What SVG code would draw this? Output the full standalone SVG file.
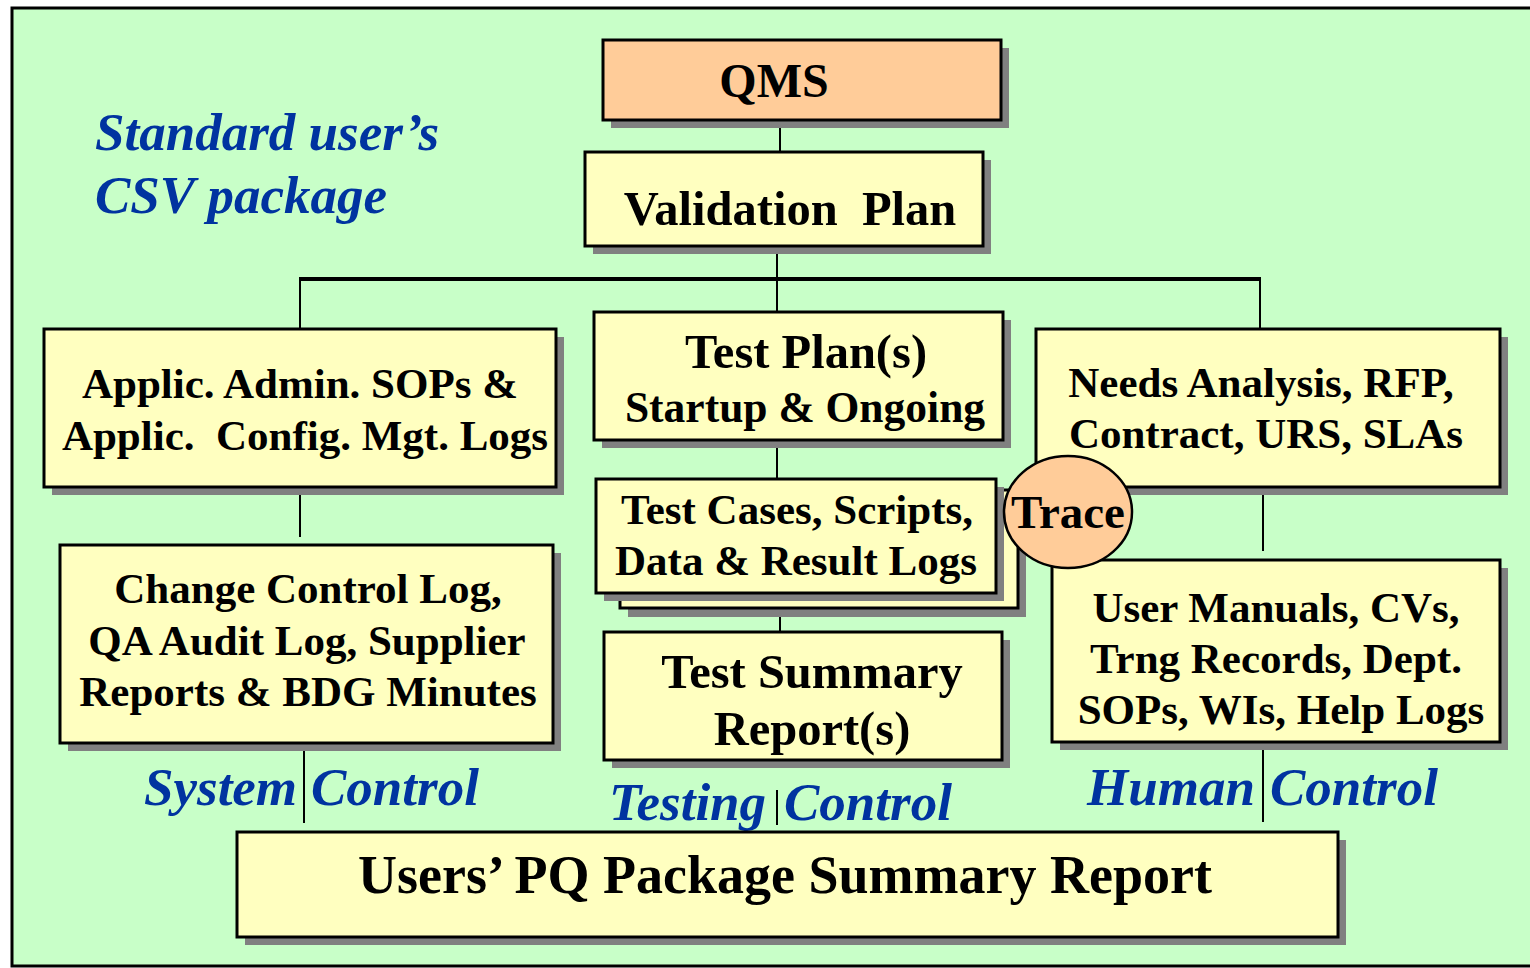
<svg xmlns="http://www.w3.org/2000/svg" width="1530" height="968" viewBox="0 0 1530 968">
  <defs>
    <style>
      .box { stroke: #000; stroke-width: 3; }
      .yel { fill: #FFFFC0; }
      .peach { fill: #FFCC99; }
      .shadow { fill: #808080; }
      .t { font-family: "Liberation Serif", "Times New Roman", serif; font-weight: bold; fill: #000; text-anchor: middle; }
      .lbl { font-family: "Liberation Serif", "Times New Roman", serif; font-weight: bold; font-style: italic; fill: #0033A0; font-size: 53px; }
      .ln { stroke: #000; stroke-width: 2; fill: none; }
    </style>
  </defs>

  <!-- page and frame -->
  <rect x="0" y="0" width="1530" height="968" fill="#FFFFFF"/>
  <rect x="12" y="8" width="1530" height="958" fill="#C8FFC8" stroke="#000" stroke-width="3"/>

  <!-- connectors -->
  <g id="connectors">
    <line class="ln" x1="780" y1="120" x2="780" y2="152"/>
    <line class="ln" x1="777" y1="246" x2="777" y2="312"/>
    <line x1="299" y1="279" x2="1261" y2="279" stroke="#000" stroke-width="4"/>
    <line class="ln" x1="300" y1="279" x2="300" y2="329"/>
    <line class="ln" x1="1260" y1="279" x2="1260" y2="329"/>
    <line class="ln" x1="777" y1="440" x2="777" y2="488"/>
    <line class="ln" x1="300" y1="487" x2="300" y2="537"/>
    <line class="ln" x1="1263" y1="495" x2="1263" y2="551"/>
    <line class="ln" x1="780" y1="617" x2="780" y2="632"/>
    <line class="ln" x1="304" y1="743" x2="304" y2="823"/>
    <line class="ln" x1="777" y1="790" x2="777" y2="825"/>
    <line class="ln" x1="1263" y1="742" x2="1263" y2="822"/>
  </g>

  <!-- side labels -->
  <g id="labels">
    <text class="lbl" x="95" y="150">Standard user’s</text>
    <text class="lbl" x="95" y="213">CSV package</text>
    <text class="lbl" x="144" y="805">System</text>
    <text class="lbl" x="311" y="805">Control</text>
    <text class="lbl" x="609" y="820">Testing</text>
    <text class="lbl" x="784" y="820">Control</text>
    <text class="lbl" x="1087" y="805">Human</text>
    <text class="lbl" x="1270" y="805">Control</text>
  </g>

  <g id="qms">
    <rect class="shadow" x="611" y="48" width="398" height="80"/>
    <rect class="box peach" x="603" y="40" width="398" height="80"/>
    <text class="t" x="774" y="97" font-size="48">QMS</text>
  </g>

  <g id="validation-plan">
    <rect class="shadow" x="593" y="160" width="398" height="94"/>
    <rect class="box yel" x="585" y="152" width="398" height="94"/>
    <text class="t" x="790" y="225" font-size="48.5" xml:space="preserve">Validation  Plan</text>
  </g>

  <g id="admin-sops">
    <rect class="shadow" x="52" y="337" width="512" height="158"/>
    <rect class="box yel" x="44" y="329" width="512" height="158"/>
    <text class="t" x="300" y="398" font-size="43">Applic. Admin. SOPs &amp;</text>
    <text class="t" x="305" y="450" font-size="43" xml:space="preserve">Applic.  Config. Mgt. Logs</text>
  </g>

  <g id="test-plan">
    <rect class="shadow" x="602" y="320" width="409" height="128"/>
    <rect class="box yel" x="594" y="312" width="409" height="128"/>
    <text class="t" x="806" y="368" font-size="48.5">Test Plan(s)</text>
    <text class="t" x="805" y="422" font-size="43.5">Startup &amp; Ongoing</text>
  </g>

  <g id="needs">
    <rect class="shadow" x="1044" y="337" width="464" height="158"/>
    <rect class="box yel" x="1036" y="329" width="464" height="158"/>
    <text class="t" x="1261" y="397" font-size="43">Needs Analysis, RFP,</text>
    <text class="t" x="1266" y="448" font-size="43">Contract, URS, SLAs</text>
  </g>

  <g id="test-cases">
    <rect class="shadow" x="628" y="498" width="398" height="119"/>
    <rect class="box yel" x="620" y="490" width="398" height="118"/>
    <rect class="shadow" x="604" y="487" width="400" height="114"/>
    <rect class="box yel" x="596" y="479" width="400" height="114"/>
    <text class="t" x="797" y="524" font-size="43">Test Cases, Scripts,</text>
    <text class="t" x="796" y="575" font-size="43">Data &amp; Result Logs</text>
  </g>

  <g id="change-control">
    <rect class="shadow" x="68" y="553" width="493" height="198"/>
    <rect class="box yel" x="60" y="545" width="493" height="198"/>
    <text class="t" x="308" y="603" font-size="43">Change Control Log,</text>
    <text class="t" x="307" y="655" font-size="43">QA Audit Log, Supplier</text>
    <text class="t" x="308" y="706" font-size="43">Reports &amp; BDG Minutes</text>
  </g>

  <g id="test-summary">
    <rect class="shadow" x="612" y="640" width="398" height="128"/>
    <rect class="box yel" x="604" y="632" width="398" height="128"/>
    <text class="t" x="812" y="688" font-size="48.5">Test Summary</text>
    <text class="t" x="812" y="745" font-size="48.5">Report(s)</text>
  </g>

  <g id="user-manuals">
    <rect class="shadow" x="1060" y="568" width="448" height="182"/>
    <rect class="box yel" x="1052" y="560" width="448" height="182"/>
    <text class="t" x="1276" y="622" font-size="43">User Manuals, CVs,</text>
    <text class="t" x="1276" y="673" font-size="43">Trng Records, Dept.</text>
    <text class="t" x="1281" y="724" font-size="43">SOPs, WIs, Help Logs</text>
  </g>

  <g id="trace">
    <ellipse cx="1068" cy="512" rx="64" ry="56" fill="#FFCC99" stroke="#000" stroke-width="2.5"/>
    <text class="t" x="1068" y="528" font-size="47">Trace</text>
  </g>

  <g id="pq-summary">
    <rect class="shadow" x="245" y="840" width="1101" height="105"/>
    <rect class="box yel" x="237" y="832" width="1101" height="105"/>
    <text class="t" x="785" y="893" font-size="54">Users’ PQ Package Summary Report</text>
  </g>
</svg>
